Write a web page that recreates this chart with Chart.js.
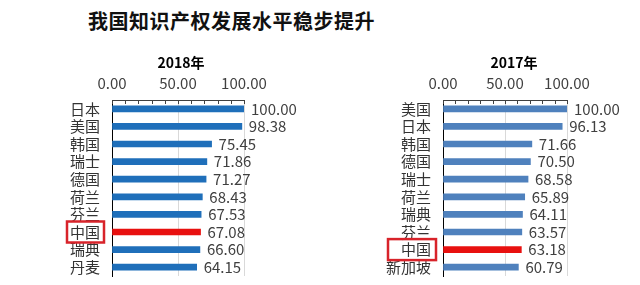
<!DOCTYPE html>
<html>
<head>
<meta charset="utf-8">
<script src="https://cdn.jsdelivr.net/npm/chart.js@4/dist/chart.umd.min.js"></script>
<style>
  body { margin: 0; background: #fff; width: 640px; height: 285px; position: relative; overflow: hidden; }
  #title { position: absolute; left: 88px; top: 6px; line-height: 28px; font: 700 20px "Noto Sans CJK SC"; letter-spacing: 0.5px; color: #111; white-space: nowrap; }
  .box { position: absolute; top: 40px; width: 320px; height: 245px; }
</style>
</head>
<body>
<div id="title">我国知识产权发展水平稳步提升</div>
<div class="box" style="left:0"><canvas id="c2018" width="320" height="245"></canvas></div>
<div class="box" style="left:320px"><canvas id="c2017" width="320" height="245"></canvas></div>
<script>
const labels2018 = ['日本', '美国', '韩国', '瑞士', '德国', '荷兰', '芬兰', '中国', '瑞典', '丹麦'];
const values2018 = [100.00, 98.38, 75.45, 71.86, 71.27, 68.43, 67.53, 67.08, 66.60, 64.15];
const labels2017 = ['美国', '日本', '韩国', '德国', '瑞士', '荷兰', '瑞典', '芬兰', '中国', '新加坡'];
const values2017 = [100.00, 96.13, 71.66, 70.50, 68.58, 65.89, 64.11, 63.57, 63.18, 60.79];
const highlight = '中国';

const FONT = '"Noto Sans CJK SC", "Noto Sans", sans-serif';

// minor ticks, value labels, year header and the red box round 中国
const extras = {
    id: 'extras',
    afterDatasetsDraw(chart, args, opts) {
        const ctx = chart.ctx;
        const x = chart.scales.x, y = chart.scales.y;
        const area = chart.chartArea;
        ctx.save();

        ctx.strokeStyle = '#404040';
        ctx.lineWidth = 1;
        for (let v = 0; v <= 100; v += 10) {
            const px = Math.round(x.getPixelForValue(v)) + 0.5;
            ctx.beginPath();
            ctx.moveTo(px, area.top);
            ctx.lineTo(px, area.top + 4);
            ctx.stroke();
        }

        ctx.font = '15px ' + FONT;
        ctx.fillStyle = '#404040';
        ctx.textBaseline = 'middle';
        ctx.textAlign = 'left';
        chart.data.datasets[0].data.forEach((v, i) => {
            ctx.fillText(v.toFixed(2), x.getPixelForValue(v) + 7, y.getPixelForValue(i));
        });

        ctx.font = 'bold 14px ' + FONT;
        ctx.fillStyle = '#000';
        ctx.textAlign = 'center';
        ctx.fillText(opts.year, (area.left + area.right) / 2 + opts.dx, opts.yearY);

        const i = chart.data.labels.indexOf(highlight);
        const cy = y.getPixelForValue(i);
        ctx.strokeStyle = '#d8232a';
        ctx.lineWidth = 2.5;
        ctx.strokeRect(opts.boxL, cy - 10.5, opts.boxR - opts.boxL, 21);
        ctx.restore();
    }
};

function makeChart(id, labels, values, color, year, axisWidth, padRight, dx, boxL, boxR) {
    const colors = labels.map(l => l === highlight ? '#e8100f' : color);
    return new Chart(document.getElementById(id), {
        type: 'bar',
        data: {
            labels: labels,
            datasets: [{
                data: values,
                backgroundColor: colors,
                barThickness: 6
            }]
        },
        options: {
            indexAxis: 'y',
            responsive: false,
            animation: false,
            layout: { padding: { top: 26, right: padRight, bottom: 9, left: 0 } },
            plugins: {
                legend: { display: false },
                tooltip: { enabled: false },
                extras: { year: year, yearY: 23, dx: dx, boxL: boxL, boxR: boxR }
            },
            scales: {
                x: {
                    position: 'top',
                    min: 0,
                    max: 100,
                    ticks: {
                        stepSize: 50,
                        padding: 8,
                        color: '#404040',
                        font: { family: FONT, size: 15 },
                        callback: v => Number(v).toFixed(2)
                    },
                    grid: {
                        drawTicks: false,
                        color: c => (c.tick && c.tick.value > 0) ? '#d9d9d9' : 'rgba(0,0,0,0)'
                    },
                    border: { color: '#404040' }
                },
                y: {
                    afterFit: s => {
                        s.width = axisWidth;
                        s.paddingTop = 0;
                        s.paddingBottom = 0;
                    },
                    ticks: {
                        autoSkip: false,
                        padding: 4,
                        color: '#333',
                        font: { family: FONT, size: 15 }
                    },
                    grid: { display: false },
                    border: { display: true, color: '#000' }
                }
            }
        },
        plugins: [extras]
    });
}

makeChart('c2018', labels2018, values2018, '#1f6fba', '2018年', 112, 76, 3, 67, 104);
makeChart('c2017', labels2017, values2017, '#4f81bd', '2017年', 123, 73, 9, 68, 116);
</script>
</body>
</html>
